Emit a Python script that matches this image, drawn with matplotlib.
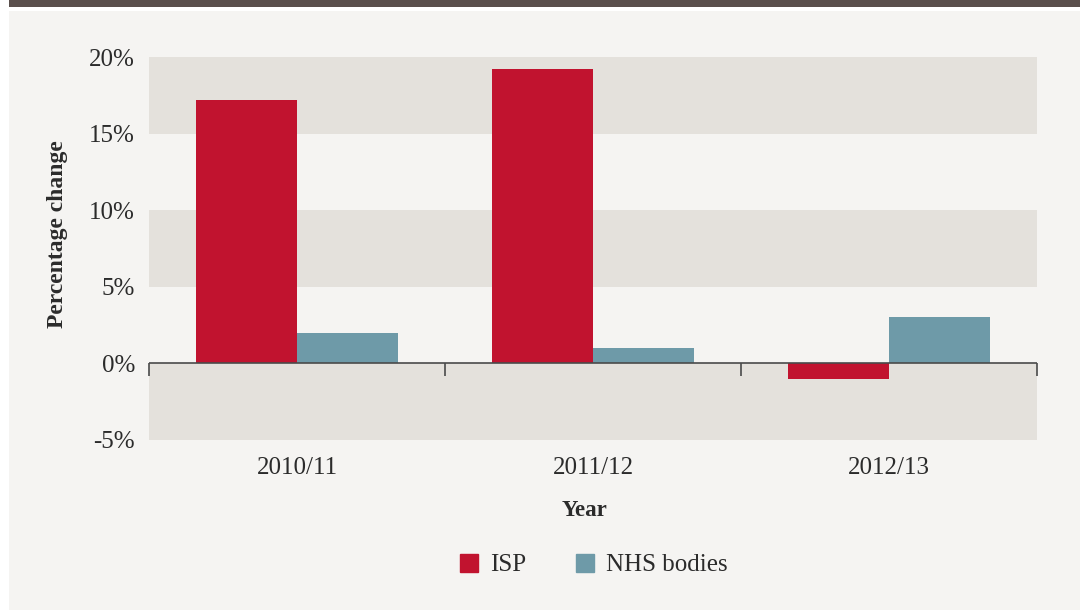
#!/usr/bin/env python3
"""Percentage change by year: ISP vs NHS bodies."""
import matplotlib
matplotlib.use("Agg")
import matplotlib.pyplot as plt
from matplotlib.patches import Rectangle, Patch
import numpy as np

years = ["2010/11", "2011/12", "2012/13"]
isp = [17.2, 19.2, -1.0]
nhs = [2.0, 1.0, 3.0]
y_ticks = [-5, 0, 5, 10, 15, 20]

BG = "#f5f4f2"
BAND = "#e4e1dc"
RED = "#c1132f"
BLUE = "#6e9aa8"
DARK = "#5a4f4c"
TXT = "#2b2b2b"

plt.rcParams["font.family"] = ["Liberation Serif", "DejaVu Serif"]

fig = plt.figure(figsize=(10.8, 6.1), dpi=100, facecolor="white")
W, H = 1080, 610
# page background and top band (kept behind the axes)
fig.patches.append(Rectangle((9 / W, 0), 1 - 9 / W, 1 - 11 / H, transform=fig.transFigure,
                             facecolor=BG, edgecolor="none", zorder=-10))
fig.patches.append(Rectangle((9 / W, 1 - 7 / H), 1 - 9 / W, 7 / H, transform=fig.transFigure,
                             facecolor=DARK, edgecolor="none", zorder=-10))

ax = fig.add_axes([149 / W, 1 - 440 / H, (1037 - 149) / W, (440 - 57) / H])
ax.set_facecolor(BG)

x = np.arange(len(years))
width = 0.34
ax.set_xlim(-0.5, len(years) - 0.5)
ax.set_ylim(-5, 20)

# alternating bands: -5..0, 5..10, 15..20 shaded
for lo, hi in zip(y_ticks[:-1], y_ticks[1:]):
    if lo in (-5, 5, 15):
        ax.axhspan(lo, hi, color=BAND, lw=0, zorder=0)

ax.bar(x - width / 2, isp, width, color=RED, zorder=2)
ax.bar(x + width / 2, nhs, width, color=BLUE, zorder=2)

# zero line with boundary ticks
ax.axhline(0, color="#4a4a4a", lw=1.2, zorder=3)
bounds = np.arange(len(years) + 1) - 0.5
ax.vlines(bounds, -0.85, 0, color="#4a4a4a", lw=1.2, zorder=3, clip_on=False)

for s in ax.spines.values():
    s.set_visible(False)

ax.set_yticks(y_ticks)
ax.set_yticklabels([f"{v}%" for v in y_ticks])
ax.set_xticks(x)
ax.set_xticklabels(years)
ax.tick_params(axis="both", length=0, labelsize=18, colors=TXT)
ax.tick_params(axis="y", pad=10)
ax.tick_params(axis="x", pad=12)

ax.set_ylabel("Percentage change", fontsize=17, fontweight="bold", color=TXT)
ax.yaxis.set_label_coords(-(149 - 68) / 888, (440 - 234) / 383)
ax.set_xlabel("Year", fontsize=16.5, fontweight="bold", color=TXT)
ax.xaxis.set_label_coords((585 - 149) / 888, -(511 - 440) / 383)
ax.xaxis.label.set_va("center")

handles = [Patch(color=RED, label="ISP"), Patch(color=BLUE, label="NHS bodies")]
fig.legend(handles=handles, loc="center", bbox_to_anchor=(594 / W, 1 - 565 / H), ncol=2,
           frameon=False, fontsize=18, handlelength=0.72, handleheight=0.72,
           handletextpad=0.48, columnspacing=2.0, labelcolor=TXT)

fig.savefig("out.png", dpi=100, facecolor=fig.get_facecolor())
